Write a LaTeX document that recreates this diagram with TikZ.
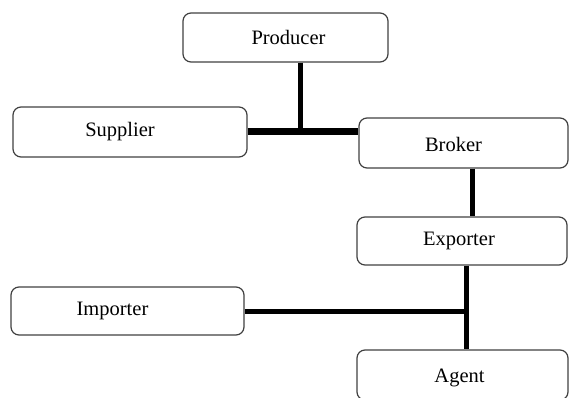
\documentclass[tikz,border=0pt]{standalone}
\usepackage{fontspec}
\setmainfont{Liberation Serif}
\begin{document}
\begin{tikzpicture}[x=1pt,y=-1pt,
    box/.style={draw=black!75,line width=1.2pt,rounded corners=8pt,inner sep=0pt},
    every label/.style={font=\fontsize{20.5}{24}\selectfont,inner sep=0pt},
    link/.style={line width=5pt}]
  \useasboundingbox (0,0) rectangle (578,398);
  \node[box,minimum width=205,minimum height=49,label={[xshift=3]center:Producer}] (producer) at (285.5,37.5) {};
  \node[box,minimum width=234,minimum height=50,label={[xshift=-10]center:Supplier}] (supplier) at (130,132) {};
  \node[box,minimum width=209,minimum height=50,label={[xshift=-10,yshift=-1]center:Broker}] (broker) at (463.5,143) {};
  \node[box,minimum width=210,minimum height=48,label={[xshift=-3]center:Exporter}] (exporter) at (462,241) {};
  \node[box,minimum width=233,minimum height=48,label={[xshift=-15]center:Importer}] (importer) at (127.5,311) {};
  \node[box,minimum width=211,minimum height=50,label={[xshift=-3,yshift=-3]center:Agent}] (agent) at (462.5,375) {};
  \coordinate (j1) at (300,132);
  \coordinate (j2) at (472,192);
  \coordinate (j3) at (466,311);
  \draw[link] (producer.south -| j1) -- (j1);
  \draw[link,line width=7pt] (supplier.east) -- (supplier.east -| broker.west);
  \draw[link] (broker.south -| j2) -- (exporter.north -| j2);
  \draw[link] (exporter.south -| j3) -- (agent.north -| j3);
  \draw[link] (importer.east) -- (j3);
\end{tikzpicture}
\end{document}
